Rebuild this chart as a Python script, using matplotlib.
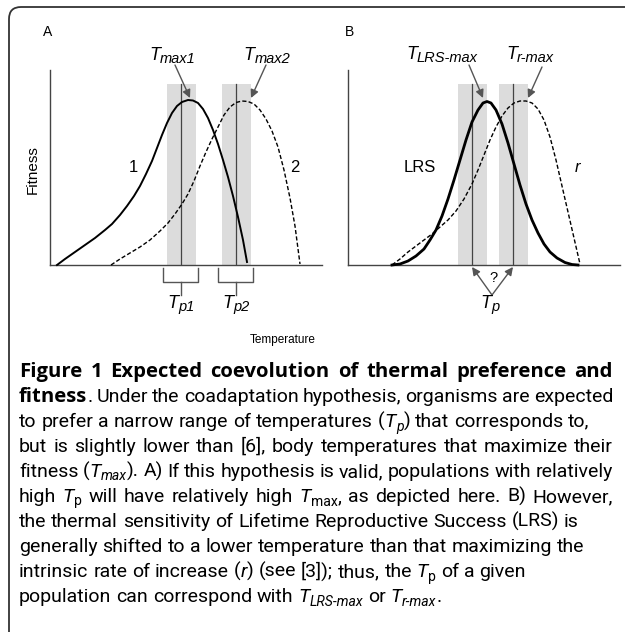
import re
import matplotlib
matplotlib.use("Agg")
import matplotlib.pyplot as plt
from matplotlib.patches import FancyBboxPatch
from matplotlib.transforms import IdentityTransform

W, H = 625, 632

# ---- curves (temperature, fitness; arbitrary units) ----
# panel A, population 1 (solid)
a1_temp = [7, 15, 25, 35, 45, 55, 62, 70, 77, 84, 90, 96, 102, 107, 112, 117, 122, 127,
           132, 138, 143, 148, 153, 158, 163, 168, 173, 178, 183, 188, 193, 197]
a1_fit = [0, 6, 13, 20, 27, 35, 41, 50, 59, 69, 79, 91, 104, 117, 130, 142, 152, 159,
          163, 165, 164.5, 162, 156, 147, 135, 121, 105, 88, 69, 48, 25, 3]
# panel A, population 2 (dashed)
a2_temp = [61, 70, 80, 90, 100, 110, 118, 125, 132, 138, 144, 150, 156, 162, 168, 174, 180,
           186, 192, 198, 204, 210, 216, 222, 228, 234, 240, 245, 250]
a2_fit = [0, 6, 12, 18, 25, 34, 42, 51, 61, 71, 84, 99, 113, 126, 138, 150, 158,
          162.5, 164, 163.5, 161, 155, 146, 134, 118, 95, 67, 39, 1]
# panel B, lifetime reproductive success (thick)
lrs_temp = [44, 52, 60, 68, 76, 82, 88, 94, 100, 106, 112, 118, 124, 130, 135, 139, 143,
            148, 154, 160, 166, 172, 178, 184, 190, 196, 202, 209, 217, 224, 230]
lrs_fit = [0, 1, 4, 9, 16, 25, 35, 49, 66, 85, 105, 125, 143, 155, 162, 163.5, 162,
           155, 141, 122, 101, 80, 61, 45, 32, 21, 13, 7, 2.5, 0.5, 0]
# panel B, intrinsic rate of increase r (dashed)
r_temp = [44, 52, 60, 68, 76, 84, 92, 100, 108, 116, 124, 130, 136, 142, 148, 154, 160,
          166, 172, 178, 184, 190, 196, 202, 208, 214, 220, 226, 232]
r_fit = [0, 6, 13, 19, 25, 31, 38, 45, 54, 66, 81, 95, 110, 125, 138, 149, 157,
         162, 164, 164, 162, 156, 145, 128, 105, 79, 53, 27, 1]

a_tp = [131, 186]          # preferred temperatures A
b_tp = [124, 165]          # preferred temperatures B
tp_halfwidth = 14.5
band_top = 181
a_tmax_tip = [(140, 167), (201, 167)]
a_tmax_tail = [(125, 200), (216, 200)]
b_tmax_tip = [(135, 167), (180, 167)]
b_tmax_tail = [(121, 200), (194, 198)]

caption = [
    ("{b:Figure 1 Expected coevolution of thermal preference and}", True),
    ("{b:fitness}. Under the coadaptation hypothesis, organisms are expected", True),
    ("to prefer a narrow range of temperatures ({i:T}{s:p}) that corresponds to,", False),
    ("but is slightly lower than [6], body temperatures that maximize their", True),
    ("fitness ({i:T}{s:max}). A) If this hypothesis is valid, populations with relatively", True),
    ("high {i:T}{S:p} will have relatively high {i:T}{S:max}, as depicted here. B) However,", True),
    ("the thermal sensitivity of Lifetime Reproductive Success (LRS) is", False),
    ("generally shifted to a lower temperature than that maximizing the", False),
    ("intrinsic rate of increase ({i:r}) (see [3]); thus, the {i:T}{S:p} of a given", False),
    ("population can correspond with {i:T}{s:LRS-max} or {i:T}{s:r-max}.", False),
]

LAB = "Liberation Sans"
CAP = "Roboto"
CAPB = "Open Sans"
GREY = "#555555"

fig = plt.figure(figsize=(W / 100, H / 100), dpi=100)
renderer = fig.canvas.get_renderer()
px = IdentityTransform()

frame = FancyBboxPatch((9, -80), 720, H - 7 + 80, boxstyle="round,pad=0,rounding_size=12",
                       transform=px, fc="none", ec="#333333", lw=1.3)
fig.add_artist(frame)


def rich(x, y, parts, ha="left"):
    items = []
    for txt, kw, dy in parts:
        t = fig.text(0, 0, txt, transform=px, va="baseline", **kw)
        items.append((t, t.get_window_extent(renderer).width, dy))
    total = sum(w for _, w, _ in items)
    if ha == "center":
        x -= total / 2
    for t, w, dy in items:
        t.set_position((x, y + dy))
        x += w
    return total


def tlabel(ax, x, y, sub, fs=13, sfs=10.5):
    dx, dy = ax.transData.transform((x, y))
    rich(dx, dy, [("T", dict(family=LAB, style="italic", fontsize=fs), 0),
                  (sub, dict(family=LAB, style="italic", fontsize=sfs), -3)], ha="center")


def panel(left):
    ax = fig.add_axes([left / W, (H - 265) / H, 272 / W, 195 / H])
    ax.set_xlim(0, 272)
    ax.set_ylim(0, 195)
    for s in ["top", "right"]:
        ax.spines[s].set_visible(False)
    for s in ["left", "bottom"]:
        ax.spines[s].set_color("#444444")
        ax.spines[s].set_linewidth(1.0)
    ax.set_xticks([])
    ax.set_yticks([])
    ax.patch.set_alpha(0)
    return ax


def bands(ax, tps):
    for t in tps:
        ax.fill_between([t - tp_halfwidth, t + tp_halfwidth], 0, band_top, color="#dcdcdc",
                        lw=0, zorder=1)
        ax.plot([t, t], [0, band_top], color="#444444", lw=0.9, zorder=2)


def arrow(ax, tip, tail):
    ax.annotate("", xy=tip, xytext=tail, annotation_clip=False,
                arrowprops=dict(arrowstyle="-|>", color=GREY, lw=1.0, mutation_scale=12,
                                shrinkA=0, shrinkB=0))


# ---- panel A ----
axA = panel(50)
bands(axA, a_tp)
axA.plot(a1_temp, a1_fit, color="black", lw=1.4, zorder=3, clip_on=False)
axA.plot(a2_temp, a2_fit, color="black", lw=1.0, ls=(0, (3, 1.6)), zorder=3, clip_on=False)
for tip, tail in zip(a_tmax_tip, a_tmax_tail):
    arrow(axA, tip, tail)
for t in a_tp:
    axA.plot([t - 18, t - 18, t + 17, t + 17], [-3, -17, -17, -3], color=GREY, lw=1.0,
             clip_on=False)
    axA.plot([t, t], [-17, -30], color=GREY, lw=1.0, clip_on=False)
tlabel(axA, 122.5, 205, "max1")
tlabel(axA, 217, 205, "max2")
tlabel(axA, a_tp[0], -43, "p1")
tlabel(axA, a_tp[1], -43, "p2")
axA.text(83, 98, "1", family=LAB, fontsize=12, ha="center", va="center")
axA.text(245, 98, "2", family=LAB, fontsize=12, ha="center", va="center")

# ---- panel B ----
axB = panel(348)
bands(axB, b_tp)
axB.plot(lrs_temp, lrs_fit, color="black", lw=2.0, zorder=3, clip_on=False)
axB.plot(r_temp, r_fit, color="black", lw=1.0, ls=(0, (3, 1.6)), zorder=3, clip_on=False)
for tip, tail in zip(b_tmax_tip, b_tmax_tail):
    arrow(axB, tip, tail)
for t in b_tp:
    arrow(axB, (t, -2), (144, -30))
axB.text(145, -13, "?", family=LAB, fontsize=10.5, ha="center", va="center")
tlabel(axB, 142, -43, "p")
tlabel(axB, 94, 206, "LRS-max")
tlabel(axB, 182, 206, "r-max")
axB.text(72, 98, "LRS", family=LAB, fontsize=12, ha="center", va="center")
axB.text(229, 98, "r", family=LAB, fontsize=12, style="italic", ha="center", va="center")

fig.text(48, H - 32, "A", transform=px, family=LAB, fontsize=10, ha="center", va="center")
fig.text(350, H - 32, "B", transform=px, family=LAB, fontsize=10, ha="center", va="center")
fig.text(33, H - 170, "Fitness", transform=px, family=LAB, fontsize=11, rotation=90,
         ha="center", va="center")
fig.text(283, H - 340, "Temperature", transform=px, family=LAB, fontsize=8.5,
         ha="center", va="center")


# ---- caption ----
def tokens(line):
    bits = re.split(r"\{(\w):([^}]*)\}", line)
    segs = []
    for k, b in enumerate(bits):
        if k % 3 == 0:
            segs.append(("n", b))
        elif k % 3 == 2:
            segs.append((bits[k - 1], b))
    toks = [[]]
    for code, txt in segs:
        for j, word in enumerate(txt.split(" ")):
            if j > 0:
                toks.append([])
            if word:
                toks[-1].append((code, word))
    return [t for t in toks if t]


def style(code, fs):
    kw = dict(family=CAP, fontsize=fs)
    dy = 0
    if code == "b":
        kw["family"] = CAPB
        kw["fontweight"] = "bold"
        kw["fontsize"] = fs * 1.04
    if code in "is":
        kw["style"] = "italic"
    if code in "sS":
        kw["fontsize"] = fs * 0.72
        dy = -3.5
    return kw, dy


def measure(s, fs):
    t = fig.text(0, 0, s, transform=px, family=CAP, fontsize=fs)
    w = t.get_window_extent(renderer).width
    t.remove()
    return w


def line_parts(line, fs):
    out = []
    for tok in tokens(line):
        parts = []
        for code, word in tok:
            kw, dy = style(code, fs)
            parts.append((word, kw, dy))
        out.append(parts)
    return out


def natural_width(line, fs):
    sp = measure("n n", fs) - measure("nn", fs)
    ws = []
    for parts in line_parts(line, fs):
        tw = 0
        for word, kw, dy in parts:
            t = fig.text(0, 0, word, transform=px, **kw)
            tw += t.get_window_extent(renderer).width
            t.remove()
        ws.append(tw)
    return sum(ws) + sp * (len(ws) - 1)


cap_fs = 10 * 563 / natural_width(caption[7][0], 10)
space = measure("n n", cap_fs) - measure("nn", cap_fs)
left, right = 19, 613
for k, (line, justify) in enumerate(caption):
    y = H - (377 + 25 * k)
    toks = line_parts(line, cap_fs)
    drawn = []
    for parts in toks:
        items = []
        for word, kw, dy in parts:
            t = fig.text(0, 0, word, transform=px, va="baseline", **kw)
            items.append((t, t.get_window_extent(renderer).width, dy))
        drawn.append(items)
    widths = [sum(w for _, w, _ in items) for items in drawn]
    gap = (right - left - sum(widths)) / (len(widths) - 1) if justify else space
    x = left
    for items, tw in zip(drawn, widths):
        xx = x
        for t, w, dy in items:
            t.set_position((xx, y + dy))
            xx += w
        x += tw + gap

fig.savefig("out.png", dpi=100)
